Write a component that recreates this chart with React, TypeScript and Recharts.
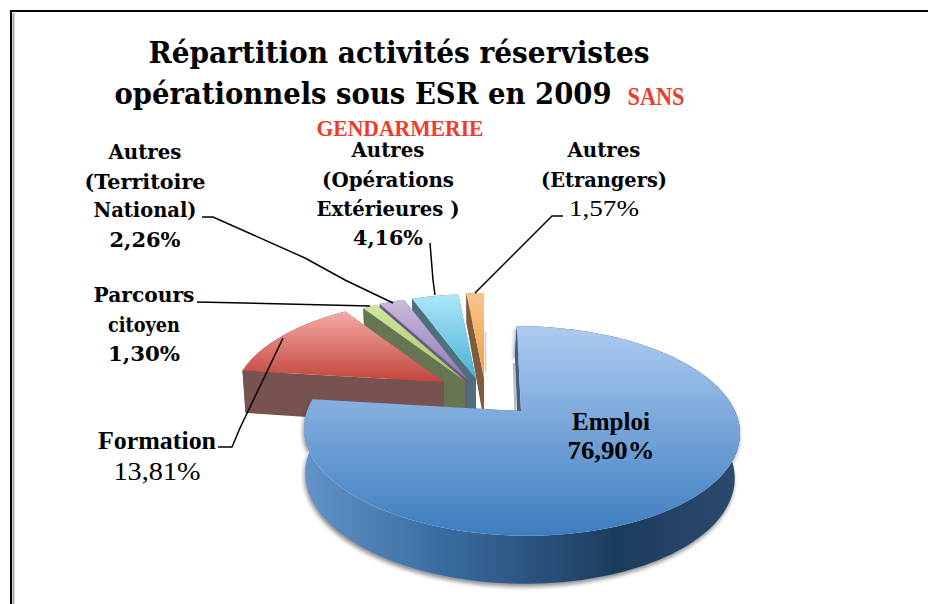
import { PieChart, Pie } from 'recharts';

// listed back to front, and the pie runs counter-clockwise from 12 o'clock,
// so Emploi ends up clockwise from the top and gets painted last
const categories = [
  'Autres (Etrangers)',
  'Autres (Opérations Extérieures)',
  'Autres (Territoire National)',
  'Parcours citoyen',
  'Formation',
  'Emploi',
];
const shares = [1.57, 4.16, 2.26, 1.3, 13.81, 76.9];

const data = categories.map((name, i) => ({ name, value: shares[i] }));

const pct = (v: number) => v.toFixed(2).replace('.', ',') + '%';

const SERIF = '"DejaVu Serif", serif';
const TITLE_SERIF = '"DejaVu Serif Condensed", "DejaVu Serif", serif';
const NARROW_SERIF = '"Liberation Serif", serif';

// fake 3d look of the old office chart
const TILT = 0.472;
const PERSPECTIVE = 0.19;

const sliceStyles = [
  { dx: -37, dy: -33, scale: 1, shear: 0, wallDx: 0, faceTop: '#f9c48e', faceBottom: '#f59b3e', wall: '#7f5c3f' },
  { dx: -45, dy: -32, scale: 1, shear: 0, wallDx: 0, faceTop: '#aee6fa', faceBottom: '#46b2d0', wall: '#4e707e' },
  { dx: -53, dy: -31, scale: 1, shear: 0, wallDx: 0, faceTop: '#cbbbdd', faceBottom: '#9078b6', wall: '#6a5a7f' },
  { dx: -56, dy: -30, scale: 1, shear: 0, wallDx: 0, faceTop: '#d2e6a0', faceBottom: '#a5c664', wall: '#667552' },
  { dx: -77, dy: -29, scale: 0.97, shear: 0, wallDx: 0, faceTop: '#f5aaa6', faceBottom: '#c2453b', wall: '#775250' },
  { dx: 0, dy: 0, scale: 1, shear: 5, wallDx: 2, faceTop: '#aecbf2', faceBottom: '#3d7dbf', wall: 'url(#emploiWall)' },
];

const depthAt = (v: number) => (v > 0 ? 44 - 14 * v : 44 - 4 * v);

const Slice3D = (props: any) => {
  const { cx, cy, outerRadius, startAngle, endAngle, index } = props;
  const st = sliceStyles[index];
  const ax = cx + st.dx;
  const ay = cy + st.dy;

  const top = (u: number, v: number) => {
    const w = 1 + PERSPECTIVE * v;
    return [ax + (u * outerRadius * st.scale - st.shear * v * st.scale) / w, ay - (v * outerRadius * TILT * st.scale) / w];
  };
  const low = (u: number, v: number) => {
    const [x, y] = top(u, v);
    return [ax + (x - ax) * 0.985 - st.wallDx, y + depthAt(v)];
  };
  const polar = (deg: number) => [Math.cos((deg * Math.PI) / 180), Math.sin((deg * Math.PI) / 180)];

  const n = Math.max(4, Math.ceil(Math.abs(endAngle - startAngle) / 2));
  const rim: number[][] = [];
  for (let i = 0; i <= n; i++) rim.push(polar(startAngle + ((endAngle - startAngle) * i) / n));

  const toPath = (pts: number[][]) => 'M' + pts.map((p) => p[0].toFixed(1) + ',' + p[1].toFixed(1)).join('L') + 'Z';

  const first = rim[0];
  const last = rim[rim.length - 1];
  const outerWall = [...rim.map(([u, v]) => top(u, v)), ...rim.slice().reverse().map(([u, v]) => low(u, v))];
  const wallA = [top(0, 0), top(first[0], first[1]), low(first[0], first[1]), low(0, 0)];
  const wallB = [top(0, 0), top(last[0], last[1]), low(last[0], last[1]), low(0, 0)];
  const face = [top(0, 0), ...rim.map(([u, v]) => top(u, v))];

  return (
    <g>
      <path
        d={toPath(outerWall)}
        fill={st.wall}
        style={index === 5 ? { filter: 'drop-shadow(-1px 3px 2px rgba(0,0,0,0.45))' } : undefined}
      />
      <path d={toPath(wallA)} fill={index === 5 ? '#3f5f86' : st.wall} />
      <path d={toPath(wallB)} fill={index === 5 ? '#3f5f86' : st.wall} />
      <path d={toPath(face)} fill={`url(#face${index})`} />
    </g>
  );
};

const labelLayouts = [
  {
    x: 604,
    lines: [
      { text: 'Autres', y: 157, w: 73, bold: true, size: 21 },
      { text: '(Etrangers)', y: 187, w: 126, bold: true, size: 21 },
      { text: '%', y: 216, w: 70, bold: false, size: 23 },
    ],
    leader: 'M563,216L552,216L510,258L475,293',
  },
  {
    x: 388,
    lines: [
      { text: 'Autres', y: 157, w: 73, bold: true, size: 21 },
      { text: '(Opérations', y: 187, w: 132, bold: true, size: 21 },
      { text: 'Extérieures )', y: 216, w: 143, bold: true, size: 21 },
      { text: '%', y: 245, w: 70, bold: true, size: 21 },
    ],
    leader: 'M430,243L433,280L435,295',
  },
  {
    x: 145,
    lines: [
      { text: 'Autres', y: 159, w: 73, bold: true, size: 21 },
      { text: '(Territoire', y: 189, w: 121, bold: true, size: 21 },
      { text: 'National)', y: 217, w: 103, bold: true, size: 21 },
      { text: '%', y: 247, w: 71, bold: true, size: 21 },
    ],
    leader: 'M202,217L213,217L305,258L345,280L393,303',
  },
  {
    x: 144,
    lines: [
      { text: 'Parcours', y: 302, w: 101, bold: true, size: 21 },
      { text: 'citoyen', y: 332, w: 72, bold: true, size: 21 },
      { text: '%', y: 361, w: 72, bold: true, size: 21 },
    ],
    leader: 'M197,302L370,306',
  },
  {
    x: 157,
    lines: [
      { text: 'Formation', y: 449, w: 118, bold: true, size: 25 },
      { text: '%', y: 480, w: 87, bold: false, size: 26 },
    ],
    leader: 'M218,447L232,447L240,428L263,380L283,338',
  },
  {
    x: 611,
    lines: [
      { text: 'Emploi', y: 430, w: 78, bold: true, size: 26 },
      { text: '%', y: 459, w: 87, bold: true, size: 26 },
    ],
    leader: '',
  },
];

const SliceLabel = (props: any) => {
  const layout = labelLayouts[props.index];
  return (
    <g>
      {layout.leader && <path d={layout.leader} fill="none" stroke="#000" strokeWidth={1.5} />}
      {layout.lines.map((l) => (
        <text
          key={l.y}
          x={layout.x}
          y={l.y}
          textAnchor="middle"
          fontFamily={l.size > 21 ? NARROW_SERIF : SERIF}
          fontSize={l.size}
          fontWeight={l.bold ? 700 : 400}
          fill="#000"
          stroke="none"
          textLength={l.w}
          lengthAdjust="spacingAndGlyphs"
        >
          {l.text === '%' ? pct(shares[props.index]) : l.text}
        </text>
      ))}
    </g>
  );
};

export default function App() {
  return (
    <div style={{ position: 'absolute', left: 0, top: 0, width: 928, height: 604, background: '#fff' }}>
      <PieChart width={928} height={604} margin={{ top: 0, right: 0, bottom: 0, left: 0 }}>
        <defs>
          {sliceStyles.map((s, i) => (
            <linearGradient key={i} id={`face${i}`} x1="0" y1="0" x2="0" y2="1">
              <stop offset="0%" stopColor={s.faceTop} />
              <stop offset="100%" stopColor={s.faceBottom} />
            </linearGradient>
          ))}
          <linearGradient id="emploiWall" x1="0" y1="0" x2="1" y2="0">
            <stop offset="0%" stopColor="#6394c9" />
            <stop offset="30%" stopColor="#3c6ea3" />
            <stop offset="72%" stopColor="#1c3c5e" />
            <stop offset="100%" stopColor="#2c4a6e" />
          </linearGradient>
        </defs>

        <path d="M11,604L11,11L928,11" fill="none" stroke="#000" strokeWidth={2} />
        <path d="M13.5,604L13.5,13" fill="none" stroke="#a8a8a8" strokeWidth={2} />
        <path d="M514,363L515.5,412" fill="none" stroke="#bdbdbd" strokeWidth={2.5} />
        <path d="M485.5,332L485.5,372" fill="none" stroke="#d4d4d4" strokeWidth={2} />

        <text x={399} y={63} textAnchor="middle" fontFamily={TITLE_SERIF} fontSize={30} fontWeight={700} textLength={501} lengthAdjust="spacingAndGlyphs">
          Répartition activités réservistes
        </text>
        <text x={363} y={104} textAnchor="middle" fontFamily={TITLE_SERIF} fontSize={30} fontWeight={700} textLength={497} lengthAdjust="spacingAndGlyphs">
          opérationnels sous ESR en 2009
        </text>
        <text x={656} y={105} textAnchor="middle" fontFamily={NARROW_SERIF} fontSize={25} fontWeight={700} fill="#ef3b2c" textLength={57} lengthAdjust="spacingAndGlyphs">
          SANS
        </text>
        <text x={400} y={136} textAnchor="middle" fontFamily={NARROW_SERIF} fontSize={23} fontWeight={700} fill="#ef3b2c" textLength={167} lengthAdjust="spacingAndGlyphs">
          GENDARMERIE
        </text>

        <Pie
          data={data}
          dataKey="value"
          nameKey="name"
          cx={521}
          cy={411}
          innerRadius={0}
          outerRadius={214}
          startAngle={90}
          endAngle={450}
          stroke="none"
          shape={Slice3D}
          label={SliceLabel}
          labelLine={false}
          isAnimationActive={false}
        />
      </PieChart>
    </div>
  );
}
